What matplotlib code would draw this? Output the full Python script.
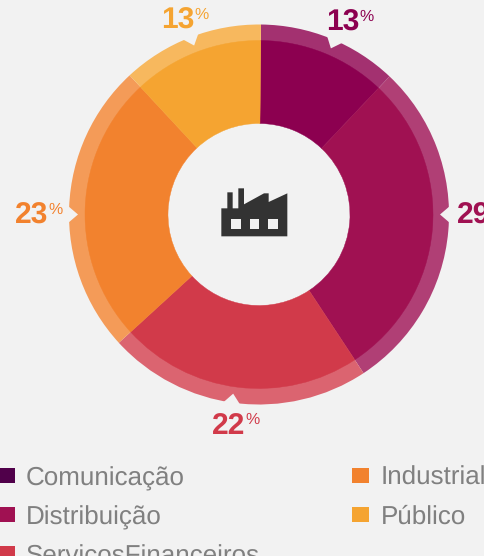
#!/usr/bin/env python3
import matplotlib; matplotlib.use("Agg")
import matplotlib.pyplot as plt
from matplotlib.patches import Polygon, Rectangle
import numpy as np

W, H = 484, 556
BG = "#f2f2f2"

CATS = ["Comunicação", "Distribuição", "ServiçosFinanceiros", "Industrial", "Público"]
# slice sizes as measured on the picture, printed labels differ slightly
SHARES = [11.9, 28.7, 22.5, 24.9, 12.1]
LABELS = ["13", "29", "22", "23", "13"]
NOTCH_ANGLES = [23.4, 90, 188.2, 270, 339]   # clockwise from top

MAIN = ["#8c0050", "#a01152", "#d13a4a", "#f2822e", "#f5a431"]
RING = ["#a33170", "#b03f75", "#db6470", "#f49b58", "#f7b85e"]
SWATCH = ["#50004a", "#a01152", "#d13a4a", "#f2822e", "#f5a431"]

CX, CY = 259, 214.5
R_OUT, R_MAIN, R_HOLE = 190, 174, 91
START = 0.6   # first slice edge, degrees clockwise from top

plt.rcParams["font.family"] = ["Liberation Sans", "DejaVu Sans"]
plt.rcParams["text.hinting"] = "no_hinting"
plt.rcParams["text.hinting_factor"] = 1

fig = plt.figure(figsize=(W / 100, H / 100), dpi=100, facecolor=BG)
ax = fig.add_axes([0, 0, 1, 1])
ax.set_facecolor(BG)

def yy(py):
    # picture y (down) -> axes y (up)
    return H - py

def pxfont(px):
    return px * 0.72

ax.pie(SHARES, colors=RING, startangle=90 - START, counterclock=False,
       center=(CX, yy(CY)), radius=R_OUT, frame=True,
       wedgeprops=dict(width=R_OUT - R_MAIN + 1, linewidth=0))
wedges, _ = ax.pie(SHARES, colors=MAIN, startangle=90 - START, counterclock=False,
                   center=(CX, yy(CY)), radius=R_MAIN, frame=True,
                   wedgeprops=dict(width=R_MAIN - R_HOLE, linewidth=0))
for w, c in zip(wedges, MAIN):
    w.set_edgecolor(c); w.set_linewidth(0.3)

# little notches in the outer ring, one per label
for a in NOTCH_ANGLES:
    pts = []
    for da, r in ((-2.75, R_OUT + 2), (0, R_OUT - 9), (2.75, R_OUT + 2)):
        t = np.radians(a + da)
        pts.append((CX + r * np.sin(t), yy(CY) + r * np.cos(t)))
    ax.add_patch(Polygon(pts, closed=True, fc=BG, ec="none", zorder=3))

# factory icon
OX, OY = 200, 170
ICON = [(64, 199), (64, 115), (82, 115), (82, 67), (98, 67), (98, 115), (115, 115),
        (115, 55), (132, 55), (132, 103), (192, 70), (206, 70), (206, 96), (262, 70), (262, 199)]
WINDOWS = [93, 149, 205]
ax.add_patch(Polygon([(OX + x / 3, yy(OY + y / 3)) for x, y in ICON],
                     closed=True, fc="#333333", ec="none", zorder=4))
for x in WINDOWS:
    ax.add_patch(Rectangle((OX + x / 3, yy(OY + 177 / 3)), 29 / 3, 29 / 3,
                           fc=BG, ec="none", zorder=5))

# value labels: digits, then small percent sign
LABEL_X = [326, 457, 212, 15, 161]
LABEL_Y = [31, 224, 434, 224, 29]
LABEL_COL = ["#8c0050", "#a01152", "#d13a4a", "#f2822e", "#f5a431"]
for s, x, y, c in zip(LABELS, LABEL_X, LABEL_Y, LABEL_COL):
    ax.text(x, yy(y), s, color=c, fontsize=pxfont(30), fontweight="bold",
            ha="left", va="baseline", clip_on=False)
    ax.text(x + 33, yy(y - 10), "%", color=c, fontsize=pxfont(15.5),
            ha="left", va="baseline", clip_on=False)

# legend, two columns
SW_X = [0, 0, 0, 352, 352]
SW_W = [15, 15, 15, 17, 17]
SW_Y = [468, 507, 546, 468, 507]
for name, x, w, y, c in zip(CATS, SW_X, SW_W, SW_Y, SWATCH):
    ax.add_patch(Rectangle((x, yy(y + 15)), w, 15, fc=c, ec="none"))
    ax.text(x + (26 if x == 0 else 29), yy(y + 17), name, color="#808080",
            fontsize=pxfont(25.8), ha="left", va="baseline")

ax.set_xlim(0, W); ax.set_ylim(0, H)
ax.set_aspect("auto")
ax.axis("off")
fig.savefig("out.png", dpi=100, facecolor=BG)
